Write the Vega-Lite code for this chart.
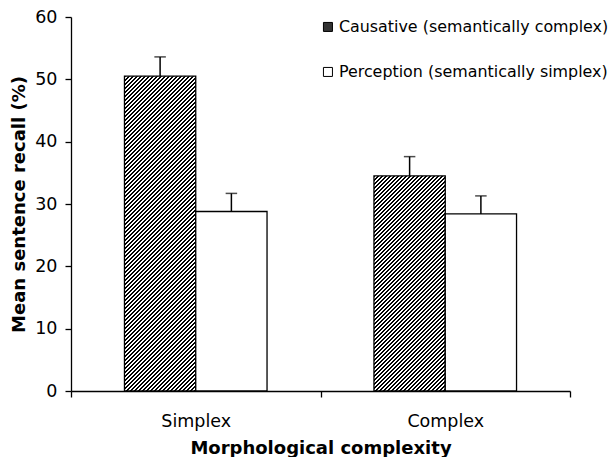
{
"$schema": "https://vega.github.io/schema/vega-lite/v6.json",
"width": 499,
"height": 374,
"autosize": {"type": "none"},
"padding": {"left": 71, "top": 17, "right": 42, "bottom": 66},
"background": "white",
"config": {
  "view": {"stroke": null},
  "font": "DejaVu Sans",
  "axis": {"domainColor": "black", "tickColor": "black", "labelColor": "black", "titleColor": "black", "grid": false, "labelFont": "DejaVu Sans", "titleFont": "DejaVu Sans"}
},
"data": {"values": [
  {"group": "Simplex", "type": "Causative (semantically complex)", "value": 50.5, "upper": 53.6},
  {"group": "Simplex", "type": "Perception (semantically simplex)", "value": 28.8, "upper": 31.7},
  {"group": "Complex", "type": "Causative (semantically complex)", "value": 34.5, "upper": 37.6},
  {"group": "Complex", "type": "Perception (semantically simplex)", "value": 28.4, "upper": 31.3}
]},
"encoding": {
  "x": {"field": "group", "type": "nominal", "sort": ["Simplex", "Complex"],
    "scale": {"paddingInner": 0, "paddingOuter": 0},
    "axis": {"title": "Morphological complexity", "labelAngle": 0, "tickBand": "extent", "tickSize": 6, "tickWidth": 1.3, "domainWidth": 1.3, "labelFontSize": 17.5, "labelPadding": 15, "titleFontSize": 18, "titleFontWeight": "bold", "titlePadding": 10}},
  "xOffset": {"field": "type", "type": "nominal", "scale": {"paddingInner": 0, "paddingOuter": 0.75}}
},
"layer": [
  {
    "mark": {"type": "bar", "stroke": "black", "strokeWidth": 1.3},
    "encoding": {
      "y": {"field": "value", "type": "quantitative", "title": "Mean sentence recall (%)", "scale": {"domain": [0, 60], "nice": false},
        "axis": {"title": "Mean sentence recall (%)", "values": [0, 10, 20, 30, 40, 50, 60], "tickSize": 6, "tickWidth": 1.3, "domainWidth": 1.3, "labelFontSize": 17.5, "labelPadding": 8, "titleFontSize": 18, "titleFontWeight": "bold", "titlePadding": 6}},
      "fill": {"field": "type", "type": "nominal",
        "scale": {"domain": ["Causative (semantically complex)", "Perception (semantically simplex)"], "range": ["#333333", "#ffffff"]},
        "legend": {"title": null, "orient": "none", "legendX": 249, "legendY": 2, "direction": "vertical", "symbolType": "square", "symbolSize": 81, "symbolStrokeColor": "black", "symbolStrokeWidth": 1, "labelFontSize": 15.9, "labelFont": "DejaVu Sans", "labelColor": "black", "labelOffset": 3, "rowPadding": 28, "padding": 0, "labelLimit": 400,
          "encode": {"symbols": {"update": {"stroke": {"value": "black"}, "strokeWidth": {"value": 1}, "fill": {"signal": "datum.value == 'Causative (semantically complex)' ? {gradient:'linear',x1:0,y1:0,x2:1,y2:1,stops:[{offset:0,color:'#000'},{offset:0.25,color:'#000'},{offset:0.25,color:'#fff'},{offset:0.375,color:'#fff'},{offset:0.375,color:'#000'},{offset:0.625,color:'#000'},{offset:0.625,color:'#fff'},{offset:0.75,color:'#fff'},{offset:0.75,color:'#000'}]} : '#ffffff'"}}}}},
        "condition": [
          {"test": "datum.group === 'Simplex' && datum.type === 'Causative (semantically complex)'",
           "value": {"gradient": "linear", "x1": 0, "y1": 0, "x2": 0.264194, "y2": 1.166627, "stops": [
{"offset":0,"color":"#000"},
{"offset":0.00518,"color":"#000"},{"offset":0.00518,"color":"#fff"},
{"offset":0.01036,"color":"#fff"},{"offset":0.01036,"color":"#000"},
{"offset":0.01554,"color":"#000"},{"offset":0.01554,"color":"#fff"},
{"offset":0.02072,"color":"#fff"},{"offset":0.02072,"color":"#000"},
{"offset":0.0259,"color":"#000"},{"offset":0.0259,"color":"#fff"},
{"offset":0.03108,"color":"#fff"},{"offset":0.03108,"color":"#000"},
{"offset":0.03626,"color":"#000"},{"offset":0.03626,"color":"#fff"},
{"offset":0.04144,"color":"#fff"},{"offset":0.04144,"color":"#000"},
{"offset":0.04662,"color":"#000"},{"offset":0.04662,"color":"#fff"},
{"offset":0.0518,"color":"#fff"},{"offset":0.0518,"color":"#000"},
{"offset":0.05698,"color":"#000"},{"offset":0.05698,"color":"#fff"},
{"offset":0.06216,"color":"#fff"},{"offset":0.06216,"color":"#000"},
{"offset":0.06734,"color":"#000"},{"offset":0.06734,"color":"#fff"},
{"offset":0.07252,"color":"#fff"},{"offset":0.07252,"color":"#000"},
{"offset":0.0777,"color":"#000"},{"offset":0.0777,"color":"#fff"},
{"offset":0.08288,"color":"#fff"},{"offset":0.08288,"color":"#000"},
{"offset":0.08806,"color":"#000"},{"offset":0.08806,"color":"#fff"},
{"offset":0.09324,"color":"#fff"},{"offset":0.09324,"color":"#000"},
{"offset":0.09842,"color":"#000"},{"offset":0.09842,"color":"#fff"},
{"offset":0.1036,"color":"#fff"},{"offset":0.1036,"color":"#000"},
{"offset":0.10878,"color":"#000"},{"offset":0.10878,"color":"#fff"},
{"offset":0.11396,"color":"#fff"},{"offset":0.11396,"color":"#000"},
{"offset":0.11914,"color":"#000"},{"offset":0.11914,"color":"#fff"},
{"offset":0.12432,"color":"#fff"},{"offset":0.12432,"color":"#000"},
{"offset":0.1295,"color":"#000"},{"offset":0.1295,"color":"#fff"},
{"offset":0.13468,"color":"#fff"},{"offset":0.13468,"color":"#000"},
{"offset":0.13986,"color":"#000"},{"offset":0.13986,"color":"#fff"},
{"offset":0.14504,"color":"#fff"},{"offset":0.14504,"color":"#000"},
{"offset":0.15022,"color":"#000"},{"offset":0.15022,"color":"#fff"},
{"offset":0.1554,"color":"#fff"},{"offset":0.1554,"color":"#000"},
{"offset":0.16058,"color":"#000"},{"offset":0.16058,"color":"#fff"},
{"offset":0.16576,"color":"#fff"},{"offset":0.16576,"color":"#000"},
{"offset":0.17094,"color":"#000"},{"offset":0.17094,"color":"#fff"},
{"offset":0.17612,"color":"#fff"},{"offset":0.17612,"color":"#000"},
{"offset":0.1813,"color":"#000"},{"offset":0.1813,"color":"#fff"},
{"offset":0.18648,"color":"#fff"},{"offset":0.18648,"color":"#000"},
{"offset":0.19166,"color":"#000"},{"offset":0.19166,"color":"#fff"},
{"offset":0.19684,"color":"#fff"},{"offset":0.19684,"color":"#000"},
{"offset":0.20202,"color":"#000"},{"offset":0.20202,"color":"#fff"},
{"offset":0.2072,"color":"#fff"},{"offset":0.2072,"color":"#000"},
{"offset":0.21238,"color":"#000"},{"offset":0.21238,"color":"#fff"},
{"offset":0.21756,"color":"#fff"},{"offset":0.21756,"color":"#000"},
{"offset":0.22274,"color":"#000"},{"offset":0.22274,"color":"#fff"},
{"offset":0.22792,"color":"#fff"},{"offset":0.22792,"color":"#000"},
{"offset":0.2331,"color":"#000"},{"offset":0.2331,"color":"#fff"},
{"offset":0.23828,"color":"#fff"},{"offset":0.23828,"color":"#000"},
{"offset":0.24346,"color":"#000"},{"offset":0.24346,"color":"#fff"},
{"offset":0.24864,"color":"#fff"},{"offset":0.24864,"color":"#000"},
{"offset":0.25382,"color":"#000"},{"offset":0.25382,"color":"#fff"},
{"offset":0.259,"color":"#fff"},{"offset":0.259,"color":"#000"},
{"offset":0.26418,"color":"#000"},{"offset":0.26418,"color":"#fff"},
{"offset":0.26936,"color":"#fff"},{"offset":0.26936,"color":"#000"},
{"offset":0.27454,"color":"#000"},{"offset":0.27454,"color":"#fff"},
{"offset":0.27972,"color":"#fff"},{"offset":0.27972,"color":"#000"},
{"offset":0.2849,"color":"#000"},{"offset":0.2849,"color":"#fff"},
{"offset":0.29008,"color":"#fff"},{"offset":0.29008,"color":"#000"},
{"offset":0.29526,"color":"#000"},{"offset":0.29526,"color":"#fff"},
{"offset":0.30044,"color":"#fff"},{"offset":0.30044,"color":"#000"},
{"offset":0.30562,"color":"#000"},{"offset":0.30562,"color":"#fff"},
{"offset":0.3108,"color":"#fff"},{"offset":0.3108,"color":"#000"},
{"offset":0.31598,"color":"#000"},{"offset":0.31598,"color":"#fff"},
{"offset":0.32116,"color":"#fff"},{"offset":0.32116,"color":"#000"},
{"offset":0.32634,"color":"#000"},{"offset":0.32634,"color":"#fff"},
{"offset":0.33152,"color":"#fff"},{"offset":0.33152,"color":"#000"},
{"offset":0.3367,"color":"#000"},{"offset":0.3367,"color":"#fff"},
{"offset":0.34188,"color":"#fff"},{"offset":0.34188,"color":"#000"},
{"offset":0.34706,"color":"#000"},{"offset":0.34706,"color":"#fff"},
{"offset":0.35224,"color":"#fff"},{"offset":0.35224,"color":"#000"},
{"offset":0.35742,"color":"#000"},{"offset":0.35742,"color":"#fff"},
{"offset":0.3626,"color":"#fff"},{"offset":0.3626,"color":"#000"},
{"offset":0.36778,"color":"#000"},{"offset":0.36778,"color":"#fff"},
{"offset":0.37296,"color":"#fff"},{"offset":0.37296,"color":"#000"},
{"offset":0.37814,"color":"#000"},{"offset":0.37814,"color":"#fff"},
{"offset":0.38332,"color":"#fff"},{"offset":0.38332,"color":"#000"},
{"offset":0.3885,"color":"#000"},{"offset":0.3885,"color":"#fff"},
{"offset":0.39368,"color":"#fff"},{"offset":0.39368,"color":"#000"},
{"offset":0.39886,"color":"#000"},{"offset":0.39886,"color":"#fff"},
{"offset":0.40404,"color":"#fff"},{"offset":0.40404,"color":"#000"},
{"offset":0.40922,"color":"#000"},{"offset":0.40922,"color":"#fff"},
{"offset":0.4144,"color":"#fff"},{"offset":0.4144,"color":"#000"},
{"offset":0.41958,"color":"#000"},{"offset":0.41958,"color":"#fff"},
{"offset":0.42476,"color":"#fff"},{"offset":0.42476,"color":"#000"},
{"offset":0.42994,"color":"#000"},{"offset":0.42994,"color":"#fff"},
{"offset":0.43512,"color":"#fff"},{"offset":0.43512,"color":"#000"},
{"offset":0.4403,"color":"#000"},{"offset":0.4403,"color":"#fff"},
{"offset":0.44548,"color":"#fff"},{"offset":0.44548,"color":"#000"},
{"offset":0.45066,"color":"#000"},{"offset":0.45066,"color":"#fff"},
{"offset":0.45584,"color":"#fff"},{"offset":0.45584,"color":"#000"},
{"offset":0.46102,"color":"#000"},{"offset":0.46102,"color":"#fff"},
{"offset":0.4662,"color":"#fff"},{"offset":0.4662,"color":"#000"},
{"offset":0.47138,"color":"#000"},{"offset":0.47138,"color":"#fff"},
{"offset":0.47656,"color":"#fff"},{"offset":0.47656,"color":"#000"},
{"offset":0.48174,"color":"#000"},{"offset":0.48174,"color":"#fff"},
{"offset":0.48692,"color":"#fff"},{"offset":0.48692,"color":"#000"},
{"offset":0.4921,"color":"#000"},{"offset":0.4921,"color":"#fff"},
{"offset":0.49728,"color":"#fff"},{"offset":0.49728,"color":"#000"},
{"offset":0.50246,"color":"#000"},{"offset":0.50246,"color":"#fff"},
{"offset":0.50764,"color":"#fff"},{"offset":0.50764,"color":"#000"},
{"offset":0.51282,"color":"#000"},{"offset":0.51282,"color":"#fff"},
{"offset":0.518,"color":"#fff"},{"offset":0.518,"color":"#000"},
{"offset":0.52318,"color":"#000"},{"offset":0.52318,"color":"#fff"},
{"offset":0.52836,"color":"#fff"},{"offset":0.52836,"color":"#000"},
{"offset":0.53354,"color":"#000"},{"offset":0.53354,"color":"#fff"},
{"offset":0.53872,"color":"#fff"},{"offset":0.53872,"color":"#000"},
{"offset":0.5439,"color":"#000"},{"offset":0.5439,"color":"#fff"},
{"offset":0.54908,"color":"#fff"},{"offset":0.54908,"color":"#000"},
{"offset":0.55426,"color":"#000"},{"offset":0.55426,"color":"#fff"},
{"offset":0.55944,"color":"#fff"},{"offset":0.55944,"color":"#000"},
{"offset":0.56462,"color":"#000"},{"offset":0.56462,"color":"#fff"},
{"offset":0.5698,"color":"#fff"},{"offset":0.5698,"color":"#000"},
{"offset":0.57498,"color":"#000"},{"offset":0.57498,"color":"#fff"},
{"offset":0.58016,"color":"#fff"},{"offset":0.58016,"color":"#000"},
{"offset":0.58534,"color":"#000"},{"offset":0.58534,"color":"#fff"},
{"offset":0.59052,"color":"#fff"},{"offset":0.59052,"color":"#000"},
{"offset":0.5957,"color":"#000"},{"offset":0.5957,"color":"#fff"},
{"offset":0.60088,"color":"#fff"},{"offset":0.60088,"color":"#000"},
{"offset":0.60606,"color":"#000"},{"offset":0.60606,"color":"#fff"},
{"offset":0.61124,"color":"#fff"},{"offset":0.61124,"color":"#000"},
{"offset":0.61642,"color":"#000"},{"offset":0.61642,"color":"#fff"},
{"offset":0.6216,"color":"#fff"},{"offset":0.6216,"color":"#000"},
{"offset":0.62678,"color":"#000"},{"offset":0.62678,"color":"#fff"},
{"offset":0.63196,"color":"#fff"},{"offset":0.63196,"color":"#000"},
{"offset":0.63714,"color":"#000"},{"offset":0.63714,"color":"#fff"},
{"offset":0.64232,"color":"#fff"},{"offset":0.64232,"color":"#000"},
{"offset":0.6475,"color":"#000"},{"offset":0.6475,"color":"#fff"},
{"offset":0.65268,"color":"#fff"},{"offset":0.65268,"color":"#000"},
{"offset":0.65786,"color":"#000"},{"offset":0.65786,"color":"#fff"},
{"offset":0.66304,"color":"#fff"},{"offset":0.66304,"color":"#000"},
{"offset":0.66822,"color":"#000"},{"offset":0.66822,"color":"#fff"},
{"offset":0.6734,"color":"#fff"},{"offset":0.6734,"color":"#000"},
{"offset":0.67858,"color":"#000"},{"offset":0.67858,"color":"#fff"},
{"offset":0.68376,"color":"#fff"},{"offset":0.68376,"color":"#000"},
{"offset":0.68894,"color":"#000"},{"offset":0.68894,"color":"#fff"},
{"offset":0.69412,"color":"#fff"},{"offset":0.69412,"color":"#000"},
{"offset":0.6993,"color":"#000"},{"offset":0.6993,"color":"#fff"},
{"offset":0.70448,"color":"#fff"},{"offset":0.70448,"color":"#000"},
{"offset":0.70966,"color":"#000"},{"offset":0.70966,"color":"#fff"},
{"offset":0.71484,"color":"#fff"},{"offset":0.71484,"color":"#000"},
{"offset":0.72002,"color":"#000"},{"offset":0.72002,"color":"#fff"},
{"offset":0.7252,"color":"#fff"},{"offset":0.7252,"color":"#000"},
{"offset":0.73038,"color":"#000"},{"offset":0.73038,"color":"#fff"},
{"offset":0.73556,"color":"#fff"},{"offset":0.73556,"color":"#000"},
{"offset":0.74074,"color":"#000"},{"offset":0.74074,"color":"#fff"},
{"offset":0.74592,"color":"#fff"},{"offset":0.74592,"color":"#000"},
{"offset":0.7511,"color":"#000"},{"offset":0.7511,"color":"#fff"},
{"offset":0.75628,"color":"#fff"},{"offset":0.75628,"color":"#000"},
{"offset":0.76146,"color":"#000"},{"offset":0.76146,"color":"#fff"},
{"offset":0.76664,"color":"#fff"},{"offset":0.76664,"color":"#000"},
{"offset":0.77182,"color":"#000"},{"offset":0.77182,"color":"#fff"},
{"offset":0.777,"color":"#fff"},{"offset":0.777,"color":"#000"},
{"offset":0.78218,"color":"#000"},{"offset":0.78218,"color":"#fff"},
{"offset":0.78736,"color":"#fff"},{"offset":0.78736,"color":"#000"},
{"offset":0.79254,"color":"#000"},{"offset":0.79254,"color":"#fff"},
{"offset":0.79772,"color":"#fff"},{"offset":0.79772,"color":"#000"},
{"offset":0.8029,"color":"#000"},{"offset":0.8029,"color":"#fff"},
{"offset":0.80808,"color":"#fff"},{"offset":0.80808,"color":"#000"},
{"offset":0.81326,"color":"#000"},{"offset":0.81326,"color":"#fff"},
{"offset":0.81844,"color":"#fff"},{"offset":0.81844,"color":"#000"},
{"offset":0.82362,"color":"#000"},{"offset":0.82362,"color":"#fff"},
{"offset":0.8288,"color":"#fff"},{"offset":0.8288,"color":"#000"},
{"offset":0.83398,"color":"#000"},{"offset":0.83398,"color":"#fff"},
{"offset":0.83916,"color":"#fff"},{"offset":0.83916,"color":"#000"},
{"offset":0.84434,"color":"#000"},{"offset":0.84434,"color":"#fff"},
{"offset":0.84952,"color":"#fff"},{"offset":0.84952,"color":"#000"},
{"offset":0.8547,"color":"#000"},{"offset":0.8547,"color":"#fff"},
{"offset":0.85988,"color":"#fff"},{"offset":0.85988,"color":"#000"},
{"offset":0.86506,"color":"#000"},{"offset":0.86506,"color":"#fff"},
{"offset":0.87024,"color":"#fff"},{"offset":0.87024,"color":"#000"},
{"offset":0.87542,"color":"#000"},{"offset":0.87542,"color":"#fff"},
{"offset":0.8806,"color":"#fff"},{"offset":0.8806,"color":"#000"},
{"offset":0.88578,"color":"#000"},{"offset":0.88578,"color":"#fff"},
{"offset":0.89096,"color":"#fff"},{"offset":0.89096,"color":"#000"},
{"offset":0.89614,"color":"#000"},{"offset":0.89614,"color":"#fff"},
{"offset":0.90132,"color":"#fff"},{"offset":0.90132,"color":"#000"},
{"offset":0.9065,"color":"#000"},{"offset":0.9065,"color":"#fff"},
{"offset":0.91168,"color":"#fff"},{"offset":0.91168,"color":"#000"},
{"offset":0.91686,"color":"#000"},{"offset":0.91686,"color":"#fff"},
{"offset":0.92204,"color":"#fff"},{"offset":0.92204,"color":"#000"},
{"offset":0.92722,"color":"#000"},{"offset":0.92722,"color":"#fff"},
{"offset":0.9324,"color":"#fff"},{"offset":0.9324,"color":"#000"},
{"offset":0.93758,"color":"#000"},{"offset":0.93758,"color":"#fff"},
{"offset":0.94276,"color":"#fff"},{"offset":0.94276,"color":"#000"},
{"offset":0.94794,"color":"#000"},{"offset":0.94794,"color":"#fff"},
{"offset":0.95312,"color":"#fff"},{"offset":0.95312,"color":"#000"},
{"offset":0.9583,"color":"#000"},{"offset":0.9583,"color":"#fff"},
{"offset":0.96348,"color":"#fff"},{"offset":0.96348,"color":"#000"},
{"offset":0.96866,"color":"#000"},{"offset":0.96866,"color":"#fff"},
{"offset":0.97384,"color":"#fff"},{"offset":0.97384,"color":"#000"},
{"offset":0.97902,"color":"#000"},{"offset":0.97902,"color":"#fff"},
{"offset":0.9842,"color":"#fff"},{"offset":0.9842,"color":"#000"},
{"offset":0.98938,"color":"#000"},{"offset":0.98938,"color":"#fff"},
{"offset":0.99456,"color":"#fff"},{"offset":0.99456,"color":"#000"},
{"offset":0.99974,"color":"#000"},{"offset":0.99974,"color":"#fff"}
]}},
          {"test": "datum.group === 'Complex' && datum.type === 'Causative (semantically complex)'",
           "value": {"gradient": "linear", "x1": 0, "y1": 0, "x2": 0.39767, "y2": 1.19966, "stops": [
{"offset":0,"color":"#000"},
{"offset":0.00698,"color":"#000"},{"offset":0.00698,"color":"#fff"},
{"offset":0.01397,"color":"#fff"},{"offset":0.01397,"color":"#000"},
{"offset":0.02095,"color":"#000"},{"offset":0.02095,"color":"#fff"},
{"offset":0.02794,"color":"#fff"},{"offset":0.02794,"color":"#000"},
{"offset":0.03492,"color":"#000"},{"offset":0.03492,"color":"#fff"},
{"offset":0.04191,"color":"#fff"},{"offset":0.04191,"color":"#000"},
{"offset":0.04889,"color":"#000"},{"offset":0.04889,"color":"#fff"},
{"offset":0.05588,"color":"#fff"},{"offset":0.05588,"color":"#000"},
{"offset":0.06286,"color":"#000"},{"offset":0.06286,"color":"#fff"},
{"offset":0.06985,"color":"#fff"},{"offset":0.06985,"color":"#000"},
{"offset":0.07683,"color":"#000"},{"offset":0.07683,"color":"#fff"},
{"offset":0.08382,"color":"#fff"},{"offset":0.08382,"color":"#000"},
{"offset":0.0908,"color":"#000"},{"offset":0.0908,"color":"#fff"},
{"offset":0.09779,"color":"#fff"},{"offset":0.09779,"color":"#000"},
{"offset":0.10477,"color":"#000"},{"offset":0.10477,"color":"#fff"},
{"offset":0.11176,"color":"#fff"},{"offset":0.11176,"color":"#000"},
{"offset":0.11874,"color":"#000"},{"offset":0.11874,"color":"#fff"},
{"offset":0.12573,"color":"#fff"},{"offset":0.12573,"color":"#000"},
{"offset":0.13271,"color":"#000"},{"offset":0.13271,"color":"#fff"},
{"offset":0.1397,"color":"#fff"},{"offset":0.1397,"color":"#000"},
{"offset":0.14668,"color":"#000"},{"offset":0.14668,"color":"#fff"},
{"offset":0.15367,"color":"#fff"},{"offset":0.15367,"color":"#000"},
{"offset":0.16065,"color":"#000"},{"offset":0.16065,"color":"#fff"},
{"offset":0.16764,"color":"#fff"},{"offset":0.16764,"color":"#000"},
{"offset":0.17462,"color":"#000"},{"offset":0.17462,"color":"#fff"},
{"offset":0.1816,"color":"#fff"},{"offset":0.1816,"color":"#000"},
{"offset":0.18859,"color":"#000"},{"offset":0.18859,"color":"#fff"},
{"offset":0.19557,"color":"#fff"},{"offset":0.19557,"color":"#000"},
{"offset":0.20256,"color":"#000"},{"offset":0.20256,"color":"#fff"},
{"offset":0.20954,"color":"#fff"},{"offset":0.20954,"color":"#000"},
{"offset":0.21653,"color":"#000"},{"offset":0.21653,"color":"#fff"},
{"offset":0.22351,"color":"#fff"},{"offset":0.22351,"color":"#000"},
{"offset":0.2305,"color":"#000"},{"offset":0.2305,"color":"#fff"},
{"offset":0.23748,"color":"#fff"},{"offset":0.23748,"color":"#000"},
{"offset":0.24447,"color":"#000"},{"offset":0.24447,"color":"#fff"},
{"offset":0.25145,"color":"#fff"},{"offset":0.25145,"color":"#000"},
{"offset":0.25844,"color":"#000"},{"offset":0.25844,"color":"#fff"},
{"offset":0.26542,"color":"#fff"},{"offset":0.26542,"color":"#000"},
{"offset":0.27241,"color":"#000"},{"offset":0.27241,"color":"#fff"},
{"offset":0.27939,"color":"#fff"},{"offset":0.27939,"color":"#000"},
{"offset":0.28638,"color":"#000"},{"offset":0.28638,"color":"#fff"},
{"offset":0.29336,"color":"#fff"},{"offset":0.29336,"color":"#000"},
{"offset":0.30035,"color":"#000"},{"offset":0.30035,"color":"#fff"},
{"offset":0.30733,"color":"#fff"},{"offset":0.30733,"color":"#000"},
{"offset":0.31432,"color":"#000"},{"offset":0.31432,"color":"#fff"},
{"offset":0.3213,"color":"#fff"},{"offset":0.3213,"color":"#000"},
{"offset":0.32829,"color":"#000"},{"offset":0.32829,"color":"#fff"},
{"offset":0.33527,"color":"#fff"},{"offset":0.33527,"color":"#000"},
{"offset":0.34226,"color":"#000"},{"offset":0.34226,"color":"#fff"},
{"offset":0.34924,"color":"#fff"},{"offset":0.34924,"color":"#000"},
{"offset":0.35622,"color":"#000"},{"offset":0.35622,"color":"#fff"},
{"offset":0.36321,"color":"#fff"},{"offset":0.36321,"color":"#000"},
{"offset":0.37019,"color":"#000"},{"offset":0.37019,"color":"#fff"},
{"offset":0.37718,"color":"#fff"},{"offset":0.37718,"color":"#000"},
{"offset":0.38416,"color":"#000"},{"offset":0.38416,"color":"#fff"},
{"offset":0.39115,"color":"#fff"},{"offset":0.39115,"color":"#000"},
{"offset":0.39813,"color":"#000"},{"offset":0.39813,"color":"#fff"},
{"offset":0.40512,"color":"#fff"},{"offset":0.40512,"color":"#000"},
{"offset":0.4121,"color":"#000"},{"offset":0.4121,"color":"#fff"},
{"offset":0.41909,"color":"#fff"},{"offset":0.41909,"color":"#000"},
{"offset":0.42607,"color":"#000"},{"offset":0.42607,"color":"#fff"},
{"offset":0.43306,"color":"#fff"},{"offset":0.43306,"color":"#000"},
{"offset":0.44004,"color":"#000"},{"offset":0.44004,"color":"#fff"},
{"offset":0.44703,"color":"#fff"},{"offset":0.44703,"color":"#000"},
{"offset":0.45401,"color":"#000"},{"offset":0.45401,"color":"#fff"},
{"offset":0.461,"color":"#fff"},{"offset":0.461,"color":"#000"},
{"offset":0.46798,"color":"#000"},{"offset":0.46798,"color":"#fff"},
{"offset":0.47497,"color":"#fff"},{"offset":0.47497,"color":"#000"},
{"offset":0.48195,"color":"#000"},{"offset":0.48195,"color":"#fff"},
{"offset":0.48894,"color":"#fff"},{"offset":0.48894,"color":"#000"},
{"offset":0.49592,"color":"#000"},{"offset":0.49592,"color":"#fff"},
{"offset":0.50291,"color":"#fff"},{"offset":0.50291,"color":"#000"},
{"offset":0.50989,"color":"#000"},{"offset":0.50989,"color":"#fff"},
{"offset":0.51688,"color":"#fff"},{"offset":0.51688,"color":"#000"},
{"offset":0.52386,"color":"#000"},{"offset":0.52386,"color":"#fff"},
{"offset":0.53084,"color":"#fff"},{"offset":0.53084,"color":"#000"},
{"offset":0.53783,"color":"#000"},{"offset":0.53783,"color":"#fff"},
{"offset":0.54481,"color":"#fff"},{"offset":0.54481,"color":"#000"},
{"offset":0.5518,"color":"#000"},{"offset":0.5518,"color":"#fff"},
{"offset":0.55878,"color":"#fff"},{"offset":0.55878,"color":"#000"},
{"offset":0.56577,"color":"#000"},{"offset":0.56577,"color":"#fff"},
{"offset":0.57275,"color":"#fff"},{"offset":0.57275,"color":"#000"},
{"offset":0.57974,"color":"#000"},{"offset":0.57974,"color":"#fff"},
{"offset":0.58672,"color":"#fff"},{"offset":0.58672,"color":"#000"},
{"offset":0.59371,"color":"#000"},{"offset":0.59371,"color":"#fff"},
{"offset":0.60069,"color":"#fff"},{"offset":0.60069,"color":"#000"},
{"offset":0.60768,"color":"#000"},{"offset":0.60768,"color":"#fff"},
{"offset":0.61466,"color":"#fff"},{"offset":0.61466,"color":"#000"},
{"offset":0.62165,"color":"#000"},{"offset":0.62165,"color":"#fff"},
{"offset":0.62863,"color":"#fff"},{"offset":0.62863,"color":"#000"},
{"offset":0.63562,"color":"#000"},{"offset":0.63562,"color":"#fff"},
{"offset":0.6426,"color":"#fff"},{"offset":0.6426,"color":"#000"},
{"offset":0.64959,"color":"#000"},{"offset":0.64959,"color":"#fff"},
{"offset":0.65657,"color":"#fff"},{"offset":0.65657,"color":"#000"},
{"offset":0.66356,"color":"#000"},{"offset":0.66356,"color":"#fff"},
{"offset":0.67054,"color":"#fff"},{"offset":0.67054,"color":"#000"},
{"offset":0.67753,"color":"#000"},{"offset":0.67753,"color":"#fff"},
{"offset":0.68451,"color":"#fff"},{"offset":0.68451,"color":"#000"},
{"offset":0.6915,"color":"#000"},{"offset":0.6915,"color":"#fff"},
{"offset":0.69848,"color":"#fff"},{"offset":0.69848,"color":"#000"},
{"offset":0.70546,"color":"#000"},{"offset":0.70546,"color":"#fff"},
{"offset":0.71245,"color":"#fff"},{"offset":0.71245,"color":"#000"},
{"offset":0.71943,"color":"#000"},{"offset":0.71943,"color":"#fff"},
{"offset":0.72642,"color":"#fff"},{"offset":0.72642,"color":"#000"},
{"offset":0.7334,"color":"#000"},{"offset":0.7334,"color":"#fff"},
{"offset":0.74039,"color":"#fff"},{"offset":0.74039,"color":"#000"},
{"offset":0.74737,"color":"#000"},{"offset":0.74737,"color":"#fff"},
{"offset":0.75436,"color":"#fff"},{"offset":0.75436,"color":"#000"},
{"offset":0.76134,"color":"#000"},{"offset":0.76134,"color":"#fff"},
{"offset":0.76833,"color":"#fff"},{"offset":0.76833,"color":"#000"},
{"offset":0.77531,"color":"#000"},{"offset":0.77531,"color":"#fff"},
{"offset":0.7823,"color":"#fff"},{"offset":0.7823,"color":"#000"},
{"offset":0.78928,"color":"#000"},{"offset":0.78928,"color":"#fff"},
{"offset":0.79627,"color":"#fff"},{"offset":0.79627,"color":"#000"},
{"offset":0.80325,"color":"#000"},{"offset":0.80325,"color":"#fff"},
{"offset":0.81024,"color":"#fff"},{"offset":0.81024,"color":"#000"},
{"offset":0.81722,"color":"#000"},{"offset":0.81722,"color":"#fff"},
{"offset":0.82421,"color":"#fff"},{"offset":0.82421,"color":"#000"},
{"offset":0.83119,"color":"#000"},{"offset":0.83119,"color":"#fff"},
{"offset":0.83818,"color":"#fff"},{"offset":0.83818,"color":"#000"},
{"offset":0.84516,"color":"#000"},{"offset":0.84516,"color":"#fff"},
{"offset":0.85215,"color":"#fff"},{"offset":0.85215,"color":"#000"},
{"offset":0.85913,"color":"#000"},{"offset":0.85913,"color":"#fff"},
{"offset":0.86612,"color":"#fff"},{"offset":0.86612,"color":"#000"},
{"offset":0.8731,"color":"#000"},{"offset":0.8731,"color":"#fff"},
{"offset":0.88008,"color":"#fff"},{"offset":0.88008,"color":"#000"},
{"offset":0.88707,"color":"#000"},{"offset":0.88707,"color":"#fff"},
{"offset":0.89405,"color":"#fff"},{"offset":0.89405,"color":"#000"},
{"offset":0.90104,"color":"#000"},{"offset":0.90104,"color":"#fff"},
{"offset":0.90802,"color":"#fff"},{"offset":0.90802,"color":"#000"},
{"offset":0.91501,"color":"#000"},{"offset":0.91501,"color":"#fff"},
{"offset":0.92199,"color":"#fff"},{"offset":0.92199,"color":"#000"},
{"offset":0.92898,"color":"#000"},{"offset":0.92898,"color":"#fff"},
{"offset":0.93596,"color":"#fff"},{"offset":0.93596,"color":"#000"},
{"offset":0.94295,"color":"#000"},{"offset":0.94295,"color":"#fff"},
{"offset":0.94993,"color":"#fff"},{"offset":0.94993,"color":"#000"},
{"offset":0.95692,"color":"#000"},{"offset":0.95692,"color":"#fff"},
{"offset":0.9639,"color":"#fff"},{"offset":0.9639,"color":"#000"},
{"offset":0.97089,"color":"#000"},{"offset":0.97089,"color":"#fff"},
{"offset":0.97787,"color":"#fff"},{"offset":0.97787,"color":"#000"},
{"offset":0.98486,"color":"#000"},{"offset":0.98486,"color":"#fff"},
{"offset":0.99184,"color":"#fff"},{"offset":0.99184,"color":"#000"},
{"offset":0.99883,"color":"#000"},{"offset":0.99883,"color":"#fff"}
]}}
        ]
      }
    }
  },
  {
    "mark": {"type": "rule", "color": "black", "strokeWidth": 1.5},
    "encoding": {
      "y": {"field": "value", "type": "quantitative", "title": "Mean sentence recall (%)"},
      "y2": {"field": "upper"}
    }
  },
  {
    "mark": {"type": "tick", "color": "black", "thickness": 1.5, "size": 11.5},
    "encoding": {
      "y": {"field": "upper", "type": "quantitative", "title": "Mean sentence recall (%)"}
    }
  }
]
}
